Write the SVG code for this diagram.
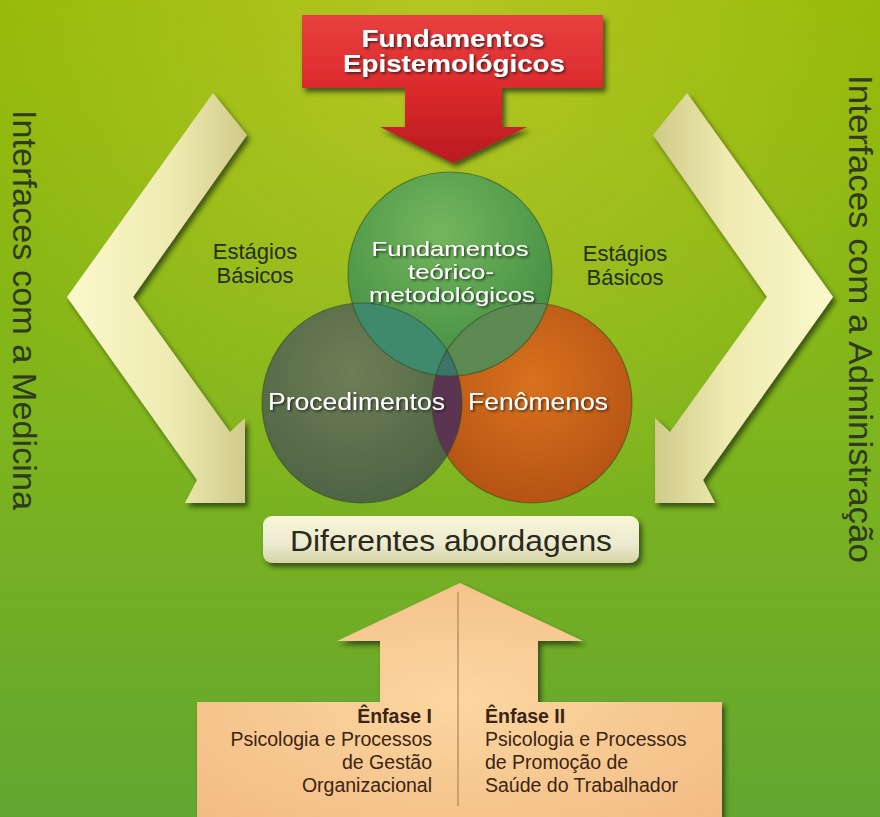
<svg xmlns="http://www.w3.org/2000/svg" width="880" height="817" viewBox="0 0 880 817">
<style>
.sans{font-family:"Liberation Sans",Arial,sans-serif}
.wt{fill:#ffffff;filter:url(#tsh)}
.side{fill:#2f3a20;font-size:33px}
.est{fill:#262e16;font-size:22px;text-anchor:middle}
.enf{fill:#3a2414;font-size:19.5px}
.ring{fill:none;stroke:#2f4a22;stroke-opacity:0.55;stroke-width:1.2}
</style>
<defs>
<linearGradient id="bg" x1="0" y1="0" x2="0" y2="1">
<stop offset="0" stop-color="#92b804"/>
<stop offset="0.5" stop-color="#80b51c"/>
<stop offset="1" stop-color="#62a630"/>
</linearGradient>
<radialGradient id="bgHi" cx="0.5" cy="0.05" r="0.6">
<stop offset="0" stop-color="#c4cc30" stop-opacity="0.7"/>
<stop offset="1" stop-color="#c4cc30" stop-opacity="0"/>
</radialGradient>
<linearGradient id="red" x1="0" y1="0" x2="0" y2="1">
<stop offset="0" stop-color="#e84040"/>
<stop offset="0.5" stop-color="#dc2a2c"/>
<stop offset="1" stop-color="#b81a20"/>
</linearGradient>
<linearGradient id="cream" x1="0" y1="0" x2="1" y2="0">
<stop offset="0" stop-color="#fbf8cc"/>
<stop offset="0.6" stop-color="#eeeab0"/>
<stop offset="1" stop-color="#cfca88"/>
</linearGradient>
<linearGradient id="creamR" x1="1" y1="0" x2="0" y2="0">
<stop offset="0" stop-color="#fbf8cc"/>
<stop offset="0.6" stop-color="#eeeab0"/>
<stop offset="1" stop-color="#cfca88"/>
</linearGradient>
<linearGradient id="box" x1="0" y1="0" x2="0" y2="1">
<stop offset="0" stop-color="#f8f6d6"/>
<stop offset="0.6" stop-color="#ecead0"/>
<stop offset="1" stop-color="#d4d4a4"/>
</linearGradient>
<radialGradient id="peach" cx="0.5" cy="0.5" r="0.7">
<stop offset="0" stop-color="#fcd6a0"/>
<stop offset="1" stop-color="#f2bc84"/>
</radialGradient>
<radialGradient id="gTop" cx="0.45" cy="0.3" r="0.75">
<stop offset="0" stop-color="#74b65c"/>
<stop offset="1" stop-color="#3e8a42"/>
</radialGradient>
<radialGradient id="gLeft" cx="0.45" cy="0.35" r="0.75">
<stop offset="0" stop-color="#6e7e56"/>
<stop offset="1" stop-color="#4a6042"/>
</radialGradient>
<radialGradient id="gRight" cx="0.5" cy="0.4" r="0.7">
<stop offset="0" stop-color="#d8721e"/>
<stop offset="1" stop-color="#b04e12"/>
</radialGradient>
<clipPath id="cL"><circle cx="362" cy="403" r="100"/></clipPath>
<clipPath id="cR"><circle cx="532" cy="403" r="100"/></clipPath>
<clipPath id="cLR" clip-path="url(#cL)"><circle cx="532" cy="403" r="100"/></clipPath>
<filter id="sh" x="-10%" y="-10%" width="125%" height="125%">
<feDropShadow dx="3" dy="4" stdDeviation="2.5" flood-color="#1e2a08" flood-opacity="0.7"/>
</filter>
<filter id="tsh" x="-5%" y="-20%" width="110%" height="150%">
<feDropShadow dx="1.5" dy="1.5" stdDeviation="1" flood-color="#1a1a1a" flood-opacity="0.8"/>
</filter>
</defs>

<rect width="880" height="817" fill="url(#bg)"/>
<rect width="880" height="817" fill="url(#bgHi)"/>

<g id="side-labels" class="sans">
<text class="side" transform="translate(13,110) rotate(90)" textLength="400" lengthAdjust="spacingAndGlyphs">Interfaces com a Medicina</text>
<text class="side" transform="translate(849,75) rotate(90)" textLength="488" lengthAdjust="spacingAndGlyphs">Interfaces com a Administração</text>
</g>

<g id="connectors">
<g id="arrow-left" filter="url(#sh)">
<polygon points="213,93 247,135 133,297 230,432 245,418 245,503 185,503 197,480 67,297" fill="url(#cream)"/>
</g>
<g id="arrow-right" filter="url(#sh)">
<polygon points="687,93 653,135 767,297 670,432 655,418 655,503 715,503 703,480 833,297" fill="url(#creamR)"/>
</g>
</g>

<g id="fundamentos-epistemologicos" class="sans">
<polygon points="302,15 603,15 603,88 502,88 502,127 527,127 453,163 380,127 405,127 405,88 302,88" fill="url(#red)" filter="url(#sh)"/>
<text class="wt" x="453" y="47" font-size="24" font-weight="bold" text-anchor="middle" textLength="183" lengthAdjust="spacingAndGlyphs">Fundamentos</text>
<text class="wt" x="454" y="72" font-size="24" font-weight="bold" text-anchor="middle" textLength="222" lengthAdjust="spacingAndGlyphs">Epistemológicos</text>
</g>

<g id="estagios-left" class="sans">
<text class="est" x="255" y="259">Estágios</text>
<text class="est" x="255" y="283">Básicos</text>
</g>
<g id="estagios-right" class="sans">
<text class="est" x="625" y="261">Estágios</text>
<text class="est" x="625" y="285">Básicos</text>
</g>

<g id="venn">
<g id="procedimentos">
<circle cx="362" cy="403" r="100" fill="url(#gLeft)"/>
</g>
<g id="fenomenos">
<circle cx="532" cy="403" r="100" fill="url(#gRight)"/>
</g>
<g id="fundamentos-teorico">
<circle cx="450" cy="274" r="102" fill="url(#gTop)"/>
</g>
<circle cx="450" cy="274" r="102" fill="#3f8a6c" clip-path="url(#cL)"/>
<circle cx="450" cy="274" r="102" fill="#5c8a52" clip-path="url(#cR)"/>
<circle cx="532" cy="403" r="100" fill="#5a3450" clip-path="url(#cL)"/>
<circle cx="450" cy="274" r="102" fill="#3b7468" clip-path="url(#cLR)"/>
<circle class="ring" cx="362" cy="403" r="100"/>
<circle class="ring" cx="532" cy="403" r="100"/>
<circle class="ring" cx="450" cy="274" r="102"/>
<g class="sans">
<text class="wt" x="450" y="256" font-size="21" text-anchor="middle" textLength="157" lengthAdjust="spacingAndGlyphs">Fundamentos</text>
<text class="wt" x="451" y="279" font-size="21" text-anchor="middle" textLength="86" lengthAdjust="spacingAndGlyphs">teórico-</text>
<text class="wt" x="452" y="302" font-size="21" text-anchor="middle" textLength="166" lengthAdjust="spacingAndGlyphs">metodológicos</text>
<text class="wt" x="268" y="410" font-size="23" textLength="177" lengthAdjust="spacingAndGlyphs">Procedimentos</text>
<text class="wt" x="468" y="410" font-size="23" textLength="140" lengthAdjust="spacingAndGlyphs">Fenômenos</text>
</g>
</g>

<g id="diferentes-abordagens" class="sans">
<rect x="263" y="516" width="376" height="47" rx="9" fill="url(#box)" filter="url(#sh)"/>
<text x="451" y="551" font-size="29" fill="#2a2a1a" text-anchor="middle" textLength="322" lengthAdjust="spacingAndGlyphs">Diferentes abordagens</text>
</g>

<g id="enfases" class="sans">
<polygon points="460,583 583,641 538,641 538,702 722,702 722,817 197,817 197,702 380,702 380,641 337,641" fill="url(#peach)" filter="url(#sh)"/>
<line x1="458" y1="592" x2="458" y2="806" stroke="#a87848" stroke-width="1.3" stroke-opacity="0.8"/>
<g id="enfase-1" class="enf" text-anchor="end">
<text x="432" y="723" font-weight="bold">Ênfase I</text>
<text x="432" y="746">Psicologia e Processos</text>
<text x="432" y="769">de Gestão</text>
<text x="432" y="792">Organizacional</text>
</g>
<g id="enfase-2" class="enf">
<text x="485" y="723" font-weight="bold">Ênfase II</text>
<text x="485" y="746">Psicologia e Processos</text>
<text x="485" y="769">de Promoção de</text>
<text x="485" y="792">Saúde do Trabalhador</text>
</g>
</g>
</svg>
